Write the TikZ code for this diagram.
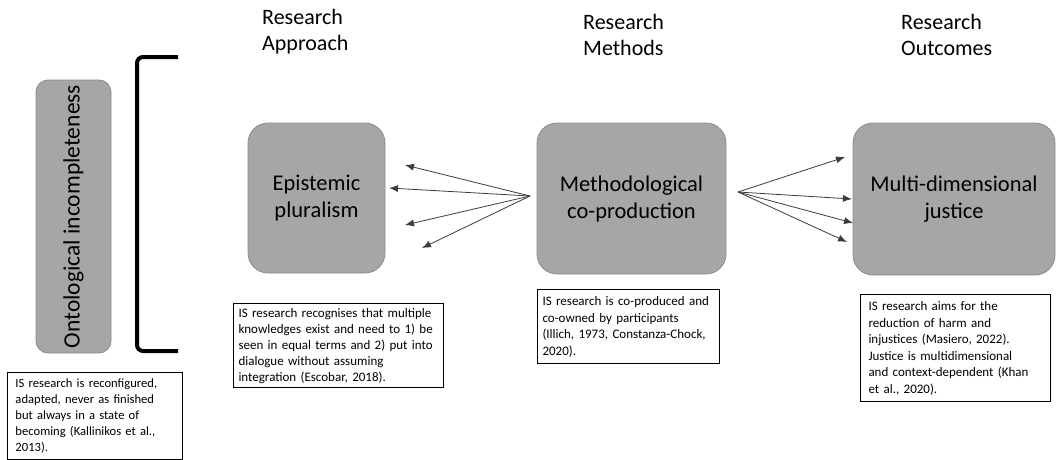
\documentclass[tikz,border=0pt]{standalone}
\usepackage{fontspec}
\setmainfont{Carlito}
\usetikzlibrary{arrows.meta}
\definecolor{boxfill}{RGB}{166,166,166}
\definecolor{boxline}{RGB}{140,140,140}
\definecolor{arrowcol}{RGB}{60,60,60}
\tikzset{
  greybox/.style={draw=boxline, line width=0.8pt, fill=boxfill, rounded corners=20pt, align=center,
    font=\fontsize{22.5}{27}\selectfont},
  notebox/.style={draw=black, line width=1pt, fill=white, anchor=north west, align=left,
    inner xsep=5pt, inner ysep=7pt, font=\fontsize{13}{16.5}\selectfont},
  heading/.style={anchor=north west, align=left, inner sep=0pt, font=\fontsize{22}{26}\selectfont},
  link/.style={draw=arrowcol, line width=0.8pt, -{Latex[length=9pt,width=7pt]}},
}
\begin{document}
\begin{tikzpicture}[x=1pt,y=-1pt]
\useasboundingbox (0,0) rectangle (1059,459);
\fill[white] (0,0) rectangle (1059,459);

% headings
\node[heading] (h1) at (262,9) {Research\\Approach};
\node[heading] (h2) at (583,14) {Research\\Methods};
\node[heading] (h3) at (901,14) {Research\\Outcomes};

% ontological box
\node[greybox, rounded corners=12pt, minimum width=75pt, minimum height=273pt, inner sep=0pt] (onto) at (73.5,216.5) {};
\node[rotate=90, font=\fontsize{23.5}{28}\selectfont, inner sep=0pt] (ontotext) at (onto.center) {Ontological incompleteness};

% bracket
\coordinate (bt) at (178,57);
\coordinate (bb) at (178,351);
\draw[line width=4pt, rounded corners=6pt] (bt) -- (137,57) -- (137,351) -- (bb);

% main boxes
\node[greybox, minimum width=137pt, minimum height=150pt] (epi) at (316.5,198) {Epistemic\\pluralism};
\node[greybox, minimum width=189pt, minimum height=151pt] (meth) at (631.5,198.5) {Methodological\\co-production};
\node[greybox, minimum width=202pt, minimum height=152pt] (just) at (954,199) {Multi-dimensional\\justice};

% arrows
\coordinate (ls) at (530,196);
\coordinate (l1) at (405,165);
\coordinate (l2) at (389,188);
\coordinate (l3) at (405,225);
\coordinate (l4) at (422,248);
\coordinate (rs) at (738,192);
\coordinate (r1) at (845,157);
\coordinate (r2) at (852,199);
\coordinate (r3) at (853,223);
\coordinate (r4) at (847,242);
\foreach \t in {l1,l2,l3,l4} \draw[link] (ls) -- (\t);
\foreach \t in {r1,r2,r3,r4} \draw[link] (rs) -- (\t);

% note boxes
\node[notebox, text width=200pt, inner ysep=4.5pt, font=\fontsize{13}{16}\selectfont] (n1) at (233,303) {IS research recognises that multiple\\knowledges exist and need to 1) be\\seen in equal terms and 2) put into\\dialogue without assuming\\integration (Escobar, 2018).};
\node[notebox, text width=172pt] (n2) at (537,289) {IS research is co-produced and\\co-owned by participants\\(Illich, 1973, Constanza-Chock,\\2020).};
\node[notebox, text width=174pt, inner xsep=8pt] (n3) at (860,294) {IS research aims for the\\reduction of harm and\\injustices (Masiero, 2022).\\Justice is multidimensional\\and context-dependent (Khan\\et al., 2020).};
\node[notebox, text width=159pt, inner xsep=8pt, inner ysep=6pt, font=\fontsize{12.6}{16}\selectfont] (n0) at (7,372) {IS research is reconfigured,\\adapted, never as finished\\but always in a state of\\becoming (Kallinikos et al.,\\2013).\\[20pt]};
\end{tikzpicture}
\end{document}
